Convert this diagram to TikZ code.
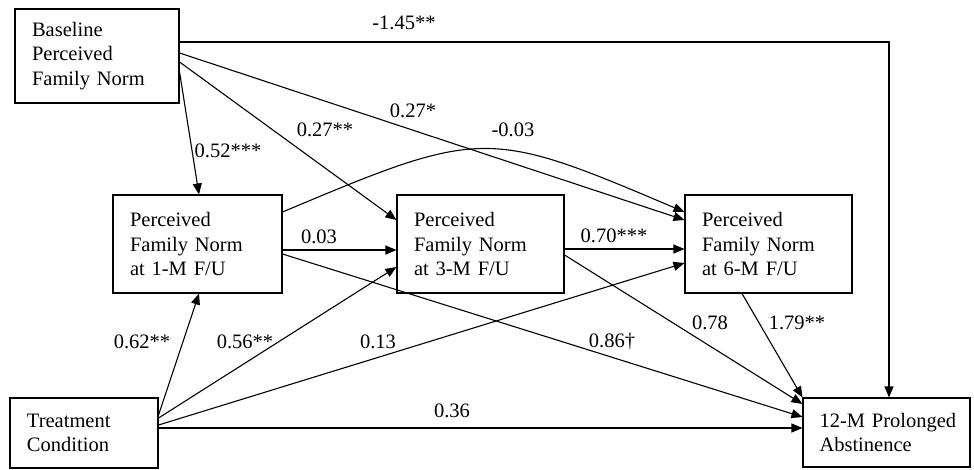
\documentclass[tikz,border=0pt]{standalone}
\usepackage{fontspec}
\setmainfont{Liberation Serif}
\usetikzlibrary{arrows.meta}
\begin{document}
\begin{tikzpicture}[x=1pt,y=-1pt,
  txt/.style={font=\fontsize{20.5}{24.5}\selectfont},
  box/.style={draw,line width=1.1pt,rectangle,txt,align=left,inner xsep=17pt,inner ysep=0pt,
    execute at begin node={\hyphenpenalty=10000\exhyphenpenalty=10000}},
  lbl/.style={txt,inner sep=0pt,anchor=center},
  arr/.style={line width=1.1pt,-{Triangle[length=11pt,width=9pt]}}
]
\useasboundingbox (0,0) rectangle (974,469);
\node[box,text width=130pt,minimum height=94pt] (base) at (97,56) {Baseline\\Perceived\\Family Norm};
\node[box,text width=135pt,minimum height=98pt] (m1) at (197.5,244) {Perceived\\Family Norm\\at 1-M F/U};
\node[box,text width=133pt,minimum height=98pt] (m3) at (480.5,244) {Perceived\\Family Norm\\at 3-M F/U};
\node[box,text width=133pt,minimum height=98pt] (m6) at (768.5,244) {Perceived\\Family Norm\\at 6-M F/U};
\node[box,text width=114pt,minimum height=70pt] (treat) at (84,433) {Treatment\\Condition};
\node[box,text width=140pt,inner xsep=13.5pt,minimum height=69pt] (abst) at (886.5,432.5) {\hspace*{3pt}12-M Prolonged\\\hspace*{3pt}Abstinence};

% baseline paths
\draw[arr] (base.east |- 0,42) -| (abst.north -| 889,0);
\draw[arr] (base.east |- 0,72) -- (m1.north -| 199,0);
\draw[arr] (base.east |- 0,62) -- (m3.west |- 0,220);
\draw[arr] (base.east |- 0,53) -- (m6.west |- 0,220);
% 1-M paths
\draw[arr] (m1.east |- 0,212) .. controls (482,128) and (487,128) .. (m6.west |- 0,212);
\draw[arr] (m1.east |- 0,250) -- (m3.west |- 0,250);
\draw[arr] (m1.east |- 0,254) -- (abst.west |- 0,417);
% 3-M paths
\draw[arr] (m3.east |- 0,249) -- (m6.west |- 0,249);
\draw[arr] (m3.east |- 0,255) -- (abst.west |- 0,404);
% 6-M path
\draw[arr] (m6.south -| 742,0) -- (abst.north west);
% treatment paths
\draw[arr] (treat.east |- 0,415) -- (m1.south -| 199,0);
\draw[arr] (treat.east |- 0,418) -- (m3.west |- 0,267);
\draw[arr] (treat.east |- 0,425) -- (m6.west |- 0,263);
\draw[arr] (treat.east |- 0,428) -- (abst.west |- 0,428);

% labels
\node[lbl] (l1) at (404,23) {-1.45**};
\node[lbl] (l2) at (228,151) {0.52***};
\node[lbl] (l3) at (325,130) {0.27**};
\node[lbl] (l4) at (413,111) {0.27*};
\node[lbl] (l5) at (513,130) {-0.03};
\node[lbl] (l6) at (319,237) {0.03};
\node[lbl] (l7) at (614,236) {0.70***};
\node[lbl] (l8) at (612,342) {0.86\textdagger};
\node[lbl] (l9) at (710,323) {0.78};
\node[lbl] (l10) at (797,323) {1.79**};
\node[lbl] (l11) at (142,342) {0.62**};
\node[lbl] (l12) at (245,342) {0.56**};
\node[lbl] (l13) at (378,342) {0.13};
\node[lbl] (l14) at (452,411) {0.36};
\end{tikzpicture}
\end{document}
